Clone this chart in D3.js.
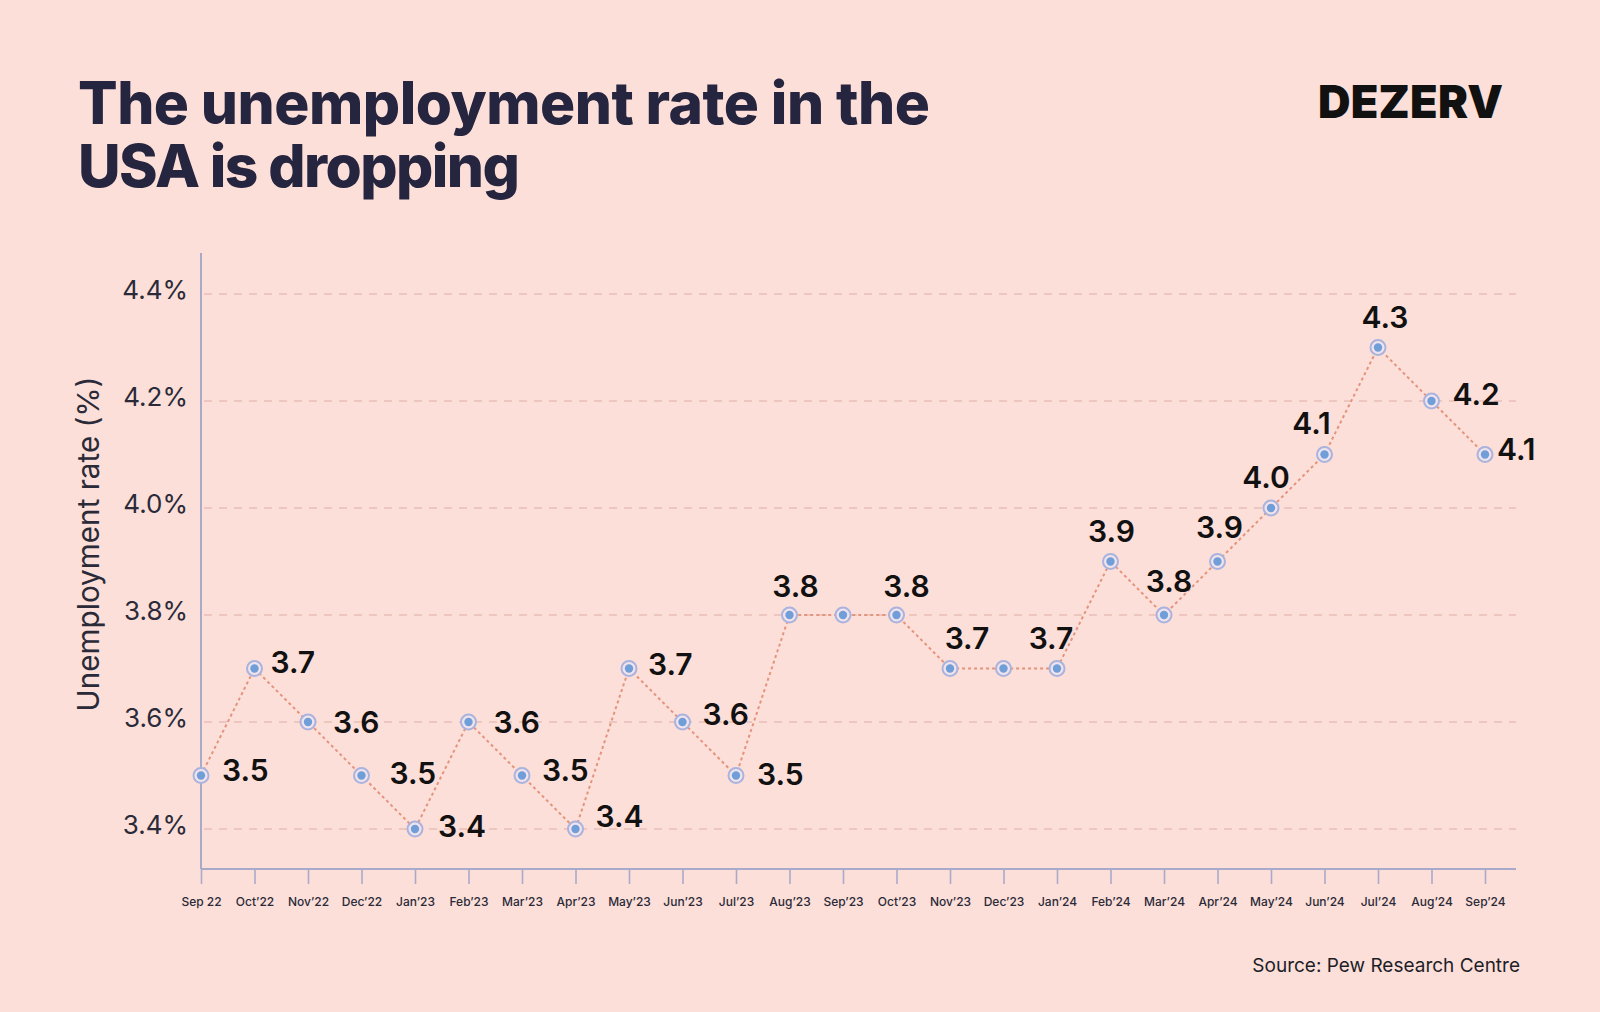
<!DOCTYPE html>
<html>
<head>
<meta charset="utf-8">
<script src="https://cdn.jsdelivr.net/npm/d3@7"></script>
<style>
  html, body { margin: 0; padding: 0; background: #fddfd9; }
  svg { display: block; }
</style>
</head>
<body>
<svg id="chart" width="1600" height="1012"></svg>
<script>
// ---- data ----
const months = ["Sep 22","Oct\u201922","Nov\u201922","Dec\u201922","Jan\u201923","Feb\u201923","Mar\u201923","Apr\u201923","May\u201923","Jun\u201923","Jul\u201923","Aug\u201923","Sep\u201923","Oct\u201923","Nov\u201923","Dec\u201923","Jan\u201924","Feb\u201924","Mar\u201924","Apr\u201924","May\u201924","Jun\u201924","Jul\u201924","Aug\u201924","Sep\u201924"];
const rates = [3.5,3.7,3.6,3.5,3.4,3.6,3.5,3.4,3.7,3.6,3.5,3.8,3.8,3.8,3.7,3.7,3.7,3.9,3.8,3.9,4.0,4.1,4.3,4.2,4.1];
const showLabel = [1,1,1,1,1,1,1,1,1,1,1,1,0,1,1,0,1,1,1,1,1,1,1,1,1];
const yTicks = [3.4,3.6,3.8,4.0,4.2,4.4];
const titleLines = ["The unemployment rate in the","USA is dropping"];
const brand = "DEZERV";
const yTitle = "Unemployment rate (%)";
const source = "Source: Pew Research Centre";

// ---- label placement (layout only): [anchor, dx, dy] relative to point ----
const labelPlacement = [
  ["start",21,-5],["start",16,-6],["start",25,0],["start",28,-2],["start",23,-3],
  ["start",25,0],["start",20,-5],["start",20,-13],["start",19,-4],["start",20,-8],
  ["start",21,-1],["middle",6,-29],null,["middle",10,-29],["middle",17,-30],
  null,["middle",-6,-30],["middle",1,-30],["middle",5,-34],["middle",2,-34],
  ["middle",-5,-31],["middle",-13,-31],["middle",7,-30],["start",21,-7],["start",12,-5]
];

const svg = d3.select("#chart");
svg.append("rect").attr("width",1600).attr("height",1012).attr("fill","#fddfd9");

const x = d3.scalePoint().domain(months).range([201, 1485]);
const y = d3.scaleLinear().domain([3.4, 4.4]).range([829, 294]);

function fitText(sel, target) {
  const fs = parseFloat(sel.attr("font-size"));
  const w = sel.node().getComputedTextLength();
  sel.attr("font-size", fs * target / w);
  return fs * target / w;
}

// ---- title ----
const t1 = svg.append("text").text(titleLines[0])
  .attr("x", 78).attr("y", 124)
  .attr("font-family","Inter, 'Noto Sans', sans-serif").attr("font-weight",800)
  .attr("font-size",56).attr("fill","#26253f").attr("letter-spacing","-0.5");
const fs1 = fitText(t1, 851);
svg.append("text").text(titleLines[1])
  .attr("x", 78).attr("y", 187)
  .attr("font-family","Inter, 'Noto Sans', sans-serif").attr("font-weight",800)
  .attr("font-size",fs1).attr("fill","#26253f")
  .attr("textLength",442).attr("lengthAdjust","spacing");

// ---- brand ----
svg.append("text").text(brand)
  .attr("x", 1318).attr("y", 118)
  .attr("font-family","Inter, 'DejaVu Sans', sans-serif").attr("font-weight",900)
  .attr("font-size",45).attr("fill","#111111")
  .attr("textLength",185).attr("lengthAdjust","spacing");

// ---- gridlines ----
svg.append("g").selectAll("line").data(yTicks).join("line")
  .attr("x1", 204).attr("x2", 1516)
  .attr("y1", d => y(d)).attr("y2", d => y(d))
  .attr("stroke","#e8c0b7").attr("stroke-width",1.5)
  .attr("stroke-dasharray","8,7");

// ---- y axis ----
const yAxis = d3.axisLeft(y).tickValues(yTicks).tickSize(0).tickPadding(0)
  .tickFormat(d => d3.format(".1f")(d) + "%");
const gy = svg.append("g").attr("transform","translate(188,-4)").call(yAxis);
gy.select(".domain").remove();
gy.selectAll("text").attr("font-family","Inter, 'Open Sans', sans-serif")
  .attr("font-size",26).attr("fill","#2a2a38").attr("font-weight",400);

svg.append("line").attr("x1",201).attr("x2",201).attr("y1",253).attr("y2",869)
  .attr("stroke","#a9aac9").attr("stroke-width",2);

const yt = svg.append("text").text(yTitle)
  .attr("transform","translate(99,544) rotate(-90)")
  .attr("text-anchor","middle")
  .attr("font-family","Inter, 'Open Sans', sans-serif")
  .attr("font-size",26).attr("fill","#2a2a38");
fitText(yt, 335);

// ---- x axis ----
svg.append("line").attr("x1",201).attr("x2",1516).attr("y1",869).attr("y2",869)
  .attr("stroke","#a9aac9").attr("stroke-width",2);
const xAxis = d3.axisBottom(x).tickSize(15).tickPadding(13);
const gx = svg.append("g").attr("transform","translate(0,869)").call(xAxis);
gx.select(".domain").remove();
gx.selectAll(".tick line").attr("stroke","#a9aac9").attr("stroke-width",1.6);
gx.selectAll(".tick text").attr("font-family","Inter, 'Open Sans', sans-serif")
  .attr("font-size",12).attr("font-weight",500).attr("fill","#2a2a38");

// ---- line ----
const line = d3.line().x((d,i) => x(months[i])).y(d => y(d));
svg.append("path").datum(rates).attr("d", line)
  .attr("fill","none").attr("stroke","#e2947c").attr("stroke-width",2)
  .attr("stroke-dasharray","3,3");

// ---- markers ----
const pts = svg.append("g").selectAll("g").data(rates).join("g")
  .attr("transform",(d,i) => `translate(${x(months[i])},${y(d)})`);
pts.append("circle").attr("r",7.5).attr("fill","#f1e3ec")
  .attr("stroke","#a9b3dd").attr("stroke-width",2);
pts.append("circle").attr("r",4.2).attr("fill","#6f9ed9");

// ---- value labels ----
const lfs = 30;
svg.append("g").selectAll("text").data(rates.map((v,i)=>({v,i})).filter(d => showLabel[d.i]))
  .join("text")
  .text(d => d3.format(".1f")(d.v))
  .attr("text-anchor", d => labelPlacement[d.i][0])
  .attr("x", d => x(months[d.i]) + labelPlacement[d.i][1])
  .attr("y", d => y(d.v) + labelPlacement[d.i][2] + lfs*0.36)
  .attr("font-family","Inter, 'Noto Sans', sans-serif").attr("font-weight",600)
  .attr("font-size",lfs).attr("fill","#111111");

// ---- source ----
svg.append("text").text(source)
  .attr("x",1520).attr("y",972).attr("text-anchor","end")
  .attr("font-family","Inter, 'Open Sans', sans-serif")
  .attr("font-size",19).attr("fill","#1e1e28");
</script>
</body>
</html>
